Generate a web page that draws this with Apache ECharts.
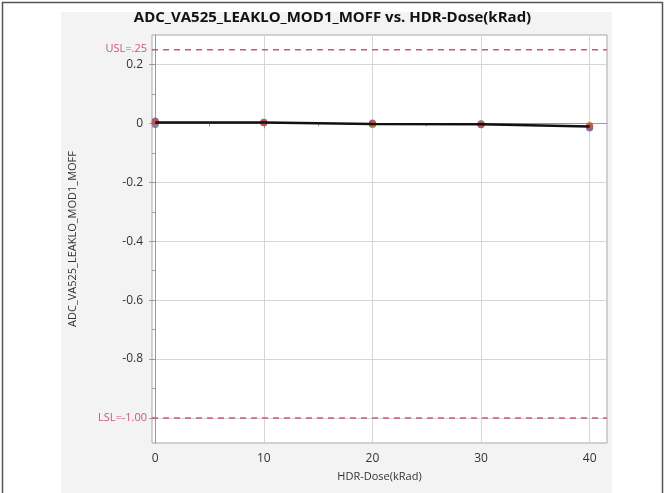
<!DOCTYPE html>
<html>
<head>
<meta charset="utf-8">
<script src="https://cdn.jsdelivr.net/npm/echarts@6/dist/echarts.min.js"></script>
<style>
  html, body { margin: 0; padding: 0; background: #ffffff; }
  #chart { width: 665px; height: 493px; }
</style>
</head>
<body>
<div id="chart"></div>
<script>
// Dose steps (kRad) and per-unit readings
const doses = [0, 10, 20, 30, 40];
const unitA = [0.008, 0.004, 0.000, -0.002, -0.012];
const unitB = [-0.004, 0.002, -0.003, -0.004, -0.016];
const unitC = [0.003, 0.004, -0.002, -0.001, -0.010];
const unitD = [0.002, 0.003, -0.004, -0.003, -0.006];
const unitE = [0.005, 0.002, 0.001, -0.005, -0.010];
const meanLine = [0.003, 0.003, -0.002, -0.003, -0.011];

// Spec limits
const USL = 0.25;
const LSL = -1.0;

// Axis ticks
const yMajorTicks = [-1.0, -0.8, -0.6, -0.4, -0.2, 0, 0.2];
const yLabelTicks = [-0.8, -0.6, -0.4, -0.2, 0, 0.2];
const yMinorTicks = [-0.9, -0.7, -0.5, -0.3, -0.1, 0.1];
const xMajorTicks = [0, 10, 20, 30, 40];
const xMinorTicks = [5, 15, 25, 35];

const unitColors = ['#6b4f9e', '#4a6fb5', '#3f9f8a', '#d08a30', '#c24a5e'];
const units = [unitA, unitB, unitC, unitD, unitE];

const limitColor = '#d0566f';
const font = '"Open Sans", "Noto Sans", sans-serif';

const chart = echarts.init(document.getElementById('chart'), null, { renderer: 'canvas' });

const pairs = vals => doses.map((d, i) => [d, vals[i]]);

const series = units.map((u, i) => ({
  type: 'scatter',
  xAxisIndex: 0,
  yAxisIndex: 0,
  data: pairs(u),
  symbolSize: 7,
  itemStyle: { color: unitColors[i], opacity: 0.8 },
  z: 3
}));

series.push({
  type: 'line',
  xAxisIndex: 0,
  yAxisIndex: 0,
  data: pairs(meanLine),
  symbol: 'none',
  lineStyle: { color: '#111', width: 2.5 },
  z: 4
});

// Spec limit lines
[USL, LSL].forEach(v => {
  series.push({
    type: 'line',
    xAxisIndex: 0,
    yAxisIndex: 0,
    data: [[-0.3, v], [41.6, v]],
    symbol: 'none',
    silent: true,
    lineStyle: { color: limitColor, type: [6, 5], width: 1.5 },
    z: 2
  });
});

const option = {
  animation: false,
  backgroundColor: '#ffffff',
  graphic: [
    { type: 'rect', z: -10, shape: { x: 61, y: 12, width: 551, height: 481 }, style: { fill: '#f3f3f3' } },
    { type: 'polyline', z: -5, shape: { points: [[2.5, 493], [2.5, 2.5], [662.5, 2.5], [662.5, 493]] }, style: { stroke: '#555', lineWidth: 1.5, fill: null } },
    { type: 'text', left: 'center', top: 10, style: { text: 'ADC_VA525_LEAKLO_MOD1_MOFF vs. HDR-Dose(kRad)', font: 'bold 15px ' + font, fill: '#111' } },
    { type: 'text', x: 147, y: 49, style: { text: 'USL=.25', font: '11px ' + font, fill: limitColor, align: 'right', verticalAlign: 'middle' } },
    { type: 'text', x: 147, y: 418, style: { text: 'LSL=-1.00', font: '11px ' + font, fill: limitColor, align: 'right', verticalAlign: 'middle' } }
  ],
  grid: {
    left: 152, right: 58, top: 35, bottom: 50,
    show: true, backgroundColor: '#ffffff', borderColor: '#a9a9a9', borderWidth: 1
  },
  xAxis: [
    {
      type: 'value', min: -0.3, max: 41.6,
      name: 'HDR-Dose(kRad)', nameLocation: 'middle', nameGap: 28,
      nameTextStyle: { fontFamily: font, fontSize: 11, color: '#333' },
      axisLine: { show: true, lineStyle: { color: '#999' } },
      axisTick: { show: true, customValues: xMajorTicks, length: 5, lineStyle: { color: '#999' } },
      axisLabel: { customValues: xMajorTicks, fontFamily: font, fontSize: 12, color: '#333', margin: 10 },
      splitLine: { show: true, lineStyle: { color: '#d6d6d6' } }
    },
    {
      type: 'value', min: -0.3, max: 41.6, position: 'bottom',
      axisLine: { show: false },
      axisTick: { show: true, customValues: xMinorTicks, length: 3, lineStyle: { color: '#999' } },
      axisLabel: { show: false },
      splitLine: { show: false }
    }
  ],
  yAxis: [
    {
      type: 'value', min: -1.085, max: 0.3,
      name: 'ADC_VA525_LEAKLO_MOD1_MOFF', nameLocation: 'middle', nameGap: 74, nameRotate: 90,
      nameTextStyle: { fontFamily: font, fontSize: 11, color: '#333' },
      axisLine: { show: true, lineStyle: { color: '#999' } },
      axisTick: { show: true, customValues: yMajorTicks, length: 6, lineStyle: { color: '#999' } },
      axisLabel: { customValues: yLabelTicks, fontFamily: font, fontSize: 12, color: '#333', margin: 9 },
      splitLine: { show: true, lineStyle: { color: '#d6d6d6' } }
    },
    {
      type: 'value', min: -1.085, max: 0.3, position: 'left',
      axisLine: { show: false },
      axisTick: { show: true, customValues: yMinorTicks, length: 3, lineStyle: { color: '#999' } },
      axisLabel: { show: false },
      splitLine: { show: false }
    }
  ],
  series: series
};

chart.setOption(option);
</script>
</body>
</html>
